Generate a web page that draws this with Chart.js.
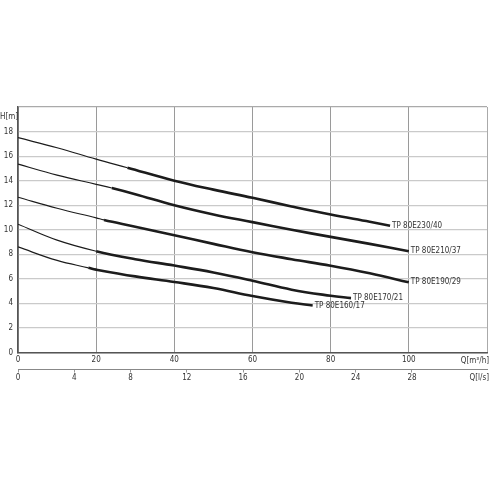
<!DOCTYPE html>
<html>
<head>
<meta charset="utf-8">
<script src="https://cdn.jsdelivr.net/npm/chart.js@4.4.1/dist/chart.umd.min.js"></script>
<style>
  html, body { margin: 0; padding: 0; background: #fff; }
</style>
</head>
<body>
<canvas id="pumpChart" width="490" height="490"></canvas>
<script>
// pump curves TP 80E..., H over Q
const curveNames = ['TP 80E230/40', 'TP 80E210/37', 'TP 80E190/29', 'TP 80E170/21', 'TP 80E160/17'];

const flow230 = [0, 10, 20, 28, 40, 50, 60, 70, 80, 90, 95.2];
const head230 = [17.5, 16.68, 15.75, 15.05, 14.0, 13.27, 12.6, 11.9, 11.24, 10.65, 10.33];

const flow210 = [0, 10, 20, 24, 30, 40, 50, 60, 70, 80, 90, 100];
const head210 = [15.35, 14.45, 13.7, 13.4, 12.9, 12.0, 11.25, 10.62, 10.0, 9.42, 8.85, 8.25];

const flow190 = [0, 10, 20, 22, 30, 40, 50, 60, 70, 80, 90, 100];
const head190 = [12.65, 11.75, 10.97, 10.8, 10.25, 9.55, 8.85, 8.17, 7.6, 7.07, 6.45, 5.72];

const flow170 = [0, 10, 20, 30, 40, 50, 60, 70, 80, 85.2];
const head170 = [10.45, 9.15, 8.25, 7.6, 7.08, 6.52, 5.85, 5.12, 4.62, 4.43];

const flow160 = [0, 10, 18, 20, 30, 40, 50, 60, 70, 75.4];
const head160 = [8.6, 7.5, 6.9, 6.75, 6.2, 5.75, 5.25, 4.6, 4.05, 3.83];

// where the thick (operating) part of each curve begins, m3/h
const thickFrom = [28, 24, 22, 20, 18];

const headTicks = [0, 2, 4, 6, 8, 10, 12, 14, 16, 18, 20];
const flowTicks = [0, 20, 40, 60, 80, 100, 120];
const litreTicks = [0, 4, 8, 12, 16, 20, 24, 28];

const flows = [flow230, flow210, flow190, flow170, flow160];
const heads = [head230, head210, head190, head170, head160];

const FONT = "'DejaVu Sans Condensed', 'Liberation Sans Narrow', 'DejaVu Sans', sans-serif";
Chart.defaults.font.family = FONT;
Chart.defaults.font.size = 8;
Chart.defaults.color = '#333';

const datasets = curveNames.map((name, i) => ({
  label: name,
  data: flows[i].map((q, k) => ({ x: q, y: heads[i][k] })),
  borderColor: '#1c1c1c',
  borderWidth: 1.2,
  pointRadius: 0,
  fill: false,
  tension: 0.4,
  segment: {
    borderWidth: ctx => (ctx.p0.parsed.x >= thickFrom[i] ? 2.6 : 1.2)
  }
}));

// texts that are not plain tick labels
const extraText = {
  id: 'extraText',
  afterDatasetsDraw(chart) {
    const c = chart.ctx;
    c.save();
    c.fillStyle = '#333';
    c.font = '8px ' + FONT;
    c.textBaseline = 'middle';
    chart.data.datasets.forEach((ds, i) => {
      const pts = chart.getDatasetMeta(i).data;
      const last = pts[pts.length - 1];
      c.textAlign = 'left';
      c.fillText(ds.label, last.x + 2, last.y);
    });
    c.textAlign = 'left';
    c.fillText('H[m]', 0, 117);
    c.textAlign = 'right';
    c.fillText('Q[m\u00b3/h]', 489, 361);
    c.fillText('Q[l/s]', 489, 377.5);
    c.restore();
  }
};

new Chart(document.getElementById('pumpChart'), {
  type: 'line',
  data: { datasets },
  options: {
    responsive: false,
    animation: false,
    layout: { padding: { top: 107, right: 2, bottom: 98.5, left: 0 } },
    plugins: { legend: { display: false }, tooltip: { enabled: false } },
    scales: {
      x: {
        type: 'linear',
        position: 'bottom',
        min: 0, max: 120,
        afterBuildTicks: s => { s.ticks = flowTicks.map(v => ({ value: v })); },
        afterFit: s => { s.height = 17; },
        ticks: {
          autoSkip: false, maxRotation: 0, padding: 3,
          callback: v => (v === 120 ? '' : v)
        },
        grid: {
          drawTicks: false,
          color: ctx => (ctx.tick && ctx.tick.value === 120 ? '#aaa' : '#9a9a9a'),
          lineWidth: 1
        },
        border: { color: '#555', width: 1.5 }
      },
      x2: {
        type: 'linear',
        position: 'bottom',
        min: 0, max: 120 / 3.6,
        afterBuildTicks: s => { s.ticks = litreTicks.map(v => ({ value: v })); },
        afterFit: s => { s.height = 22; },
        ticks: { autoSkip: false, maxRotation: 0, padding: 1 },
        grid: { drawOnChartArea: false, tickLength: 3, color: '#999' },
        border: { color: '#888', width: 1 }
      },
      y: {
        type: 'linear',
        min: 0, max: 20,
        afterBuildTicks: s => { s.ticks = headTicks.map(v => ({ value: v })); },
        afterFit: s => { s.width = 18; },
        ticks: { padding: 5, callback: v => (v === 20 ? '' : v) },
        grid: {
          drawTicks: false,
          color: ctx => (ctx.tick && ctx.tick.value === 20 ? '#aaa' : '#cacaca'),
          lineWidth: 1.2
        },
        border: { color: '#555', width: 1.5 }
      }
    }
  },
  plugins: [extraText]
});
</script>
</body>
</html>
